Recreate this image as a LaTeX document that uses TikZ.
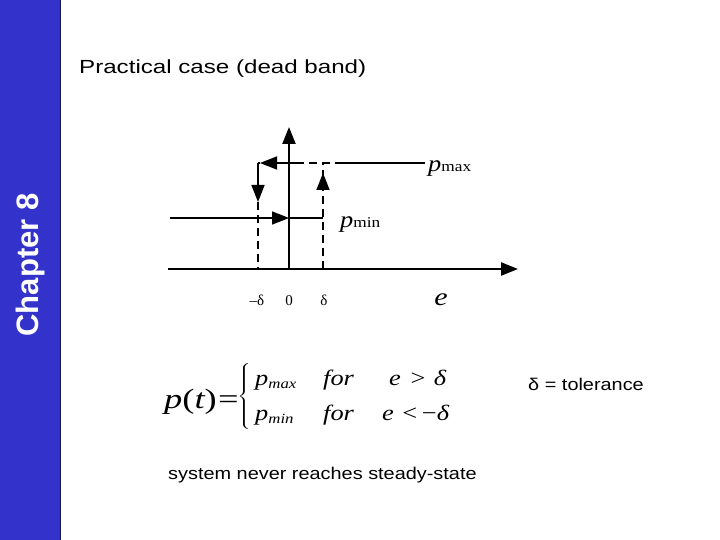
\documentclass[tikz,border=0pt]{standalone}
\usepackage{fontspec}
\setmainfont{Liberation Sans}
\newfontfamily\tms{Liberation Serif}
\usetikzlibrary{arrows.meta}
\definecolor{barblue}{RGB}{51,51,204}
\definecolor{barline}{RGB}{20,20,80}
\tikzset{
  arr/.style={-{Triangle[length=17pt,width=13pt]}},
  ln/.style={line width=1.7pt, black},
  axis/.style={line width=2.2pt, black},
  dsh/.style={line width=1.7pt, dash pattern=on 8pt off 5pt},
  lbl/.style={inner sep=0pt, anchor=base west, font=\tms},
  sans/.style={inner sep=0pt, anchor=base west},
}
\newcommand{\fs}[1]{\fontsize{#1}{#1}\selectfont}
\newcommand{\wide}[2]{\scalebox{#1}[1]{#2}}
\begin{document}
\begin{tikzpicture}[x=1pt,y=-1pt]
\useasboundingbox (0,0) rectangle (720,540);
% side bar
\fill[barblue] (0,0) rectangle (60,540);
\draw[barline, line width=1pt] (60,0) -- (60,540);
\node[rotate=90, text=white, font=\fs{31}\bfseries, inner sep=0pt] (chap) at (30,265) {Chapter 8};
% title
\node[sans] (title) at (79,74) {\wide{1.27}{\fs{19}Practical case (dead band)}};
% coordinates
\coordinate (xl) at (168,269);
\coordinate (xr) at (518,269);
\coordinate (o) at (289,269);
\coordinate (yt) at (289,127);
\coordinate (ml) at (258,269);
\coordinate (mr) at (323,269);
\coordinate (tl) at (258,163);
\coordinate (tr) at (323,163);
\coordinate (ld) at (258,202);
\coordinate (pl) at (170,218);
\coordinate (pm) at (289,218);
\coordinate (pr) at (323,218);
\coordinate (ta) at (296,163);
\coordinate (tb) at (335,163);
\coordinate (te) at (425,163);
\coordinate (ua) at (323,191);
\coordinate (ub) at (323,173);
% axes
\draw[axis, arr] (xl) -- (xr);
\draw[axis, arr] (o) -- (yt);
% p_min level
\draw[ln, arr] (pl) -- (pm);
\draw[ln] (pm) -- (pr);
% p_max level
\draw[ln, arr] (ta) -- ([xshift=2pt]tl);
\draw[ln] ([xshift=2pt]tl) -- (tl);
\draw[ln, arr] (tl) -- (ld);
\draw[dsh] (ld) -- (ml);
\draw[dsh] (ta) -- (tb);
\draw[ln] (tb) -- (te);
\draw[dsh] (mr) -- (tr);
\draw[ln, arr] (ua) -- (ub);
% labels
\node[lbl] (pmax) at (428,172) {\wide{1.15}{\fs{23}\itshape p\upshape\fs{15}max}};
\node[lbl] (pmin) at (340,227) {\wide{1.15}{\fs{23}\itshape p\upshape\fs{15}min}};
\node[lbl, anchor=base] (lmd) at (257,305) {\fs{15}–δ};
\node[lbl, anchor=base] (lz) at (289,305) {\fs{15}0};
\node[lbl, anchor=base] (ld2) at (324,305) {\fs{15}δ};
\node[lbl, anchor=base] (le) at (441,305) {\wide{1.2}{\fs{25}\itshape e}};
% equation
\node[lbl] (pt) at (164,408) {\wide{1.3}{\fs{28}\itshape p\upshape(\itshape t\upshape)\hspace{1pt}=}};
\node[inner sep=0pt] (br) at (245,396) {\wide{1.5}{\fs{26}$\left\{\vphantom{\rule{0pt}{40pt}}\right.$}};
\node[lbl] (r1a) at (255,385) {\wide{1.2}{\fs{22}\itshape p\raisebox{-3pt}{\fs{14}max}}};
\node[lbl] (r1b) at (323,385) {\wide{1.2}{\fs{22}\itshape for}};
\node[lbl] (r1c) at (389,385) {\wide{1.2}{\fs{22}\itshape e\hspace{8pt}\upshape>\hspace{7pt}\itshape δ}};
\node[lbl] (r2a) at (255,420) {\wide{1.2}{\fs{22}\itshape p\raisebox{-3pt}{\fs{14}min}}};
\node[lbl] (r2b) at (323,420) {\wide{1.2}{\fs{22}\itshape for}};
\node[lbl] (r2c) at (382,420) {\wide{1.2}{\fs{22}\itshape e\hspace{7pt}\upshape<\hspace{4pt}−\itshape δ}};
% texts
\node[sans, anchor=base east] (tol) at (644,390) {\wide{1.17}{\fs{17}δ = tolerance}};
\node[sans] (sys) at (168,479) {\wide{1.17}{\fs{17}system never reaches steady-state}};
\end{tikzpicture}
\end{document}
